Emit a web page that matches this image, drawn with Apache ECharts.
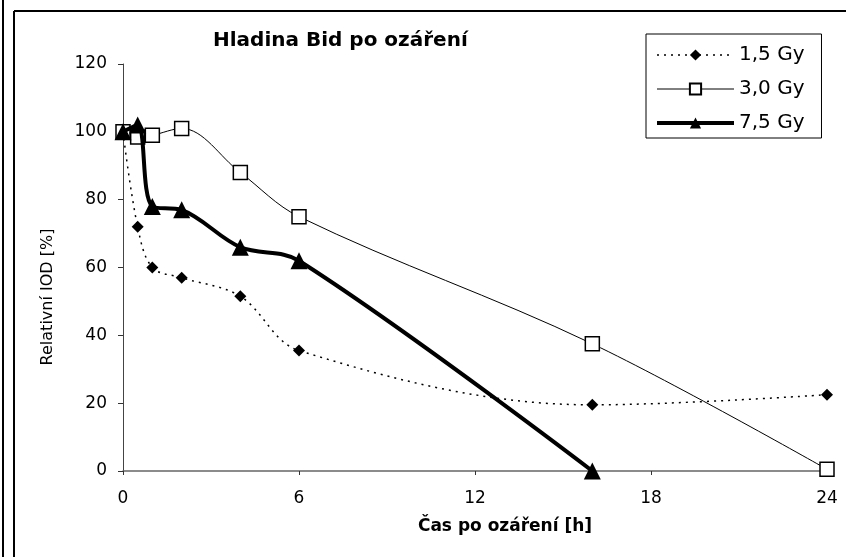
<!DOCTYPE html>
<html>
<head>
<meta charset="utf-8">
<script src="https://cdn.jsdelivr.net/npm/echarts@6/dist/echarts.min.js"></script>
<style>
  html, body { margin: 0; padding: 0; background: #fff; }
  #chart { width: 846px; height: 557px; }
</style>
</head>
<body>
<div id="chart"></div>
<script>
// časy odběru [h] a relativní IOD [%]
const hours = [0, 0.5, 1, 2, 4, 6, 16, 24];
const gy15 = [100, 72, 60, 57, 51.5, 35.5, 19.5, 22.5];
const gy30 = [100, 98.5, 99, 101, 88, 75, 37.5, 0.5];
const gy75 = [100, 102, 78, 77, 66, 62, 0];
const xTicks = [0, 6, 12, 18, 24];
const yTicks = [0, 20, 40, 60, 80, 100, 120];

const pairs = (ys) => ys.map((y, i) => [hours[i], y]);

const font = "'DejaVu Sans', Verdana, sans-serif";
const chart = echarts.init(document.getElementById('chart'));

chart.setOption({
  backgroundColor: '#fff',
  animation: false,
  title: {
    text: 'Hladina Bid po ozáření',
    left: 208,
    top: 26,
    textStyle: { fontFamily: font, fontSize: 20, fontWeight: 'bold', color: '#000' }
  },
  legend: {
    orient: 'vertical',
    left: 646,
    top: 34,
    padding: [11, 17, 5, 9],
    itemGap: 14,
    itemWidth: 77,
    itemHeight: 14,
    borderColor: '#000',
    borderWidth: 1,
    textStyle: { fontFamily: font, fontSize: 20, color: '#000' },
    data: [
      { name: '1,5 Gy', lineStyle: { width: 1.5, type: [2, 5] } },
      { name: '3,0 Gy', lineStyle: { width: 1 } },
      { name: '7,5 Gy', lineStyle: { width: 4 } }
    ]
  },
  grid: { left: 123, right: 19, top: 64, bottom: 86 },
  xAxis: {
    type: 'value',
    min: xTicks[0],
    max: xTicks[xTicks.length - 1],
    interval: 6,
    axisLine: { onZero: false, lineStyle: { color: '#666', width: 1.5 } },
    axisTick: { length: 4, lineStyle: { color: '#333' } },
    axisLabel: { fontFamily: font, fontSize: 17, color: '#000', margin: 19 },
    splitLine: { show: false }
  },
  yAxis: {
    type: 'value',
    min: yTicks[0],
    max: yTicks[yTicks.length - 1],
    interval: 20,
    axisLine: { show: true, lineStyle: { color: '#444', width: 1 } },
    axisTick: { show: true, length: 5, lineStyle: { color: '#333' } },
    axisLabel: { fontFamily: font, fontSize: 17, color: '#000', margin: 16 },
    splitLine: { show: false }
  },
  series: [
    {
      name: '1,5 Gy',
      type: 'line',
      smooth: 0.35,
      data: pairs(gy15),
      symbol: 'diamond',
      symbolSize: 12,
      itemStyle: { color: '#000' },
      lineStyle: { color: '#000', width: 1.5, type: [2, 5] },
      z: 3
    },
    {
      name: '3,0 Gy',
      type: 'line',
      smooth: 0.35,
      data: pairs(gy30),
      symbol: 'rect',
      symbolSize: 14,
      itemStyle: { color: '#fff', borderColor: '#000', borderWidth: 1.5 },
      lineStyle: { color: '#000', width: 1 },
      z: 4
    },
    {
      name: '7,5 Gy',
      type: 'line',
      smooth: 0.35,
      data: pairs(gy75),
      symbol: 'triangle',
      symbolSize: 17,
      itemStyle: { color: '#000' },
      lineStyle: { color: '#000', width: 4 },
      z: 5
    }
  ],
  graphic: [
    { type: 'line', shape: { x1: 3, y1: 0, x2: 3, y2: 557 }, style: { stroke: '#000', lineWidth: 2 } },
    { type: 'line', shape: { x1: 14, y1: 11, x2: 14, y2: 557 }, style: { stroke: '#000', lineWidth: 2 } },
    { type: 'line', shape: { x1: 14, y1: 11, x2: 846, y2: 11 }, style: { stroke: '#000', lineWidth: 2 } },
    {
      type: 'text', x: 48, y: 297, rotation: Math.PI / 2,
      style: { text: 'Relativní IOD [%]', font: '16px ' + font, fill: '#000', align: 'center', verticalAlign: 'middle' }
    },
    {
      type: 'text', x: 505, y: 527,
      style: { text: 'Čas po ozáření [h]', font: 'bold 17px ' + font, fill: '#000', align: 'center', verticalAlign: 'middle' }
    }
  ]
});
</script>
</body>
</html>
